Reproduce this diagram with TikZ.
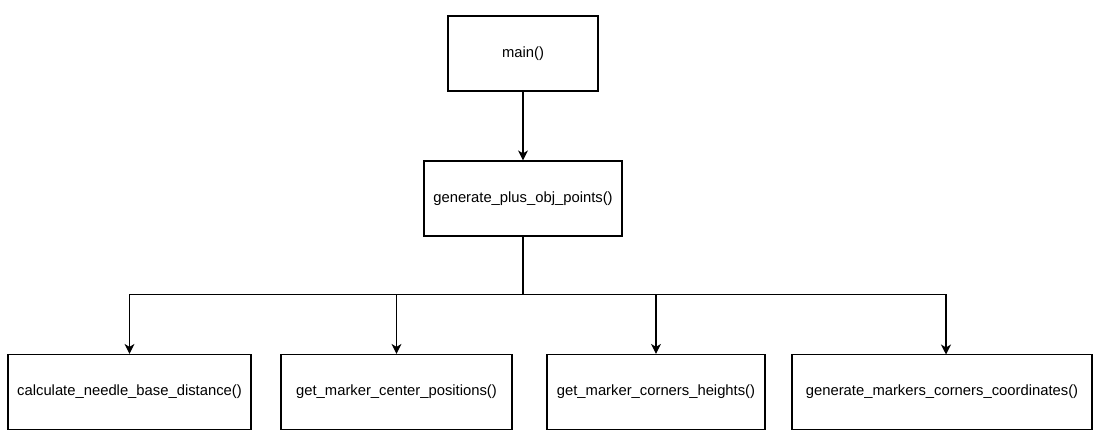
\documentclass[tikz,border=0pt]{standalone}
\usepackage{fontspec}
\setmainfont{Liberation Sans}
\usetikzlibrary{arrows.meta}
\begin{document}
\begin{tikzpicture}[x=1pt,y=-1pt,
  fn/.style={draw=black, line width=1.2pt, minimum height=75pt, inner sep=0pt,
             font=\fontsize{14.8}{17}\selectfont},
  link/.style={line width=1.2pt, -{Stealth[length=10pt,width=10pt,inset=3pt]}}]
  \useasboundingbox (0,0) rectangle (1101,437);
  \node[fn, minimum width=150pt] (main) at (523,53.5) {main()};
  \node[fn, minimum width=198pt] (gen) at (523,198.5) {generate\_plus\_obj\_points()};
  \node[fn, minimum width=243pt] (b1) at (129.5,392) {calculate\_needle\_base\_distance()};
  \node[fn, minimum width=231pt] (b2) at (396.5,392) {get\_marker\_center\_positions()};
  \node[fn, minimum width=218pt] (b3) at (656,392) {get\_marker\_corners\_heights()};
  \node[fn, minimum width=300pt] (b4) at (942,392) {generate\_markers\_corners\_coordinates()};
  \coordinate (bus) at (523,294.5);
  \coordinate (b4in) at (946,354.5);
  \draw[link] (main) -- (gen);
  \draw[line width=1.2pt] (gen.south) -- (bus);
  \draw[link] (bus) -| (b1.north);
  \draw[link] (bus) -| (b2.north);
  \draw[link] (bus) -| (b3.north);
  \draw[link] (bus) -| (b4in);
\end{tikzpicture}
\end{document}
